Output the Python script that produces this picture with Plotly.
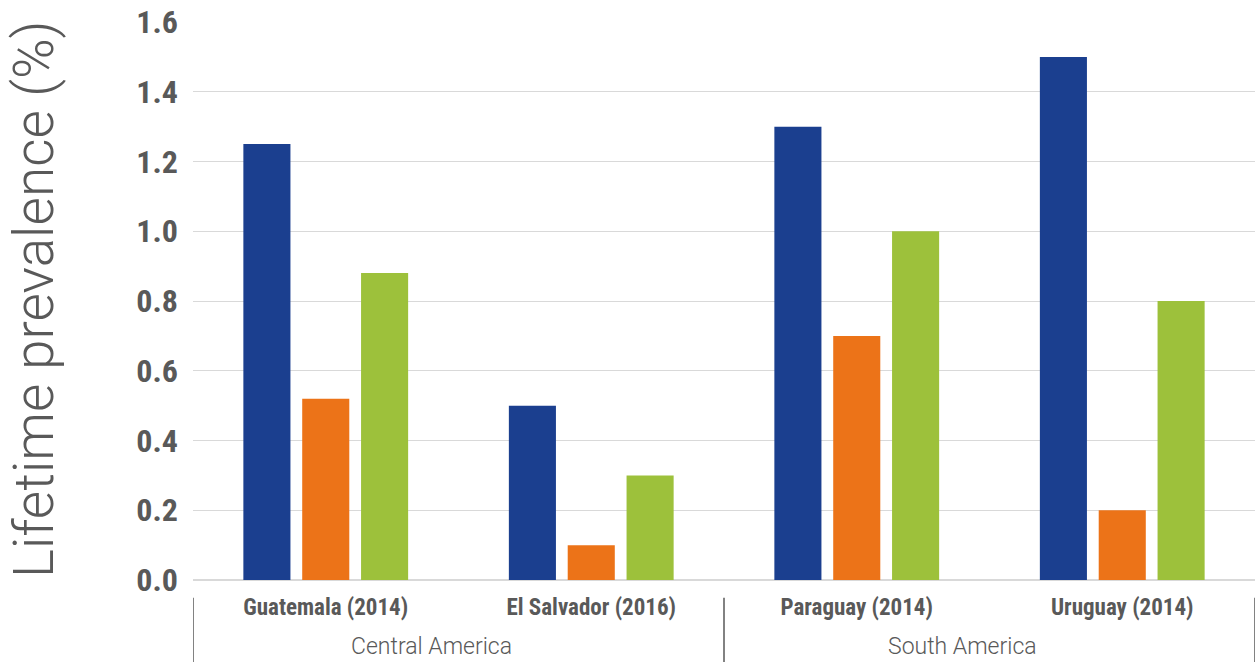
import plotly.graph_objects as go

# data
countries = ["Guatemala (2014)", "El Salvador (2016)", "Paraguay (2014)", "Uruguay (2014)"]
regions = ["Central America", "Central America", "South America", "South America"]
series_a = [1.25, 0.50, 1.30, 1.50]
series_b = [0.52, 0.10, 0.70, 0.20]
series_c = [0.88, 0.30, 1.00, 0.80]
y_ticks = [0.0, 0.2, 0.4, 0.6, 0.8, 1.0, 1.2, 1.4, 1.6]

colors = ["#1B3F8F", "#EC7318", "#9DC13B"]
grey = "#595959"
cond = "Roboto Condensed, DejaVu Sans Condensed, Roboto"

fig = go.Figure()
for vals, col in zip([series_a, series_b, series_c], colors):
    fig.add_trace(go.Bar(x=countries, y=vals, marker=dict(color=col, line=dict(width=0)),
                         showlegend=False))

# region labels + divider lines under the axis
region_names = ["Central America", "South America"]
for r in region_names:
    idx = [k for k, v in enumerate(regions) if v == r]
    mid = (idx[0] + idx[-1]) / 2 - 0.1
    fig.add_annotation(x=mid, y=-0.12, xref="x", yref="paper", text=r, showarrow=False,
                       font=dict(family="Roboto", weight=300, size=23, color=grey),
                       yanchor="middle")
for xd in [-0.5, 1.5, 3.5]:
    fig.add_shape(type="line", xref="x", yref="paper", x0=xd, x1=xd, y0=-0.032, y1=-0.15,
                  line=dict(color=grey, width=1.5))

# y title as a rotated annotation so it doesn't push the margins
fig.add_annotation(x=-0.149, y=0.503, xref="paper", yref="paper", text="Lifetime prevalence (%)",
                   textangle=-90, showarrow=False, xanchor="center", yanchor="middle",
                   font=dict(family="Roboto", weight=300, size=55, color=grey))

fig.update_layout(
    width=1257, height=662,
    margin=dict(l=193, r=2, t=22, b=82),
    plot_bgcolor="white", paper_bgcolor="white",
    barmode="group", bargap=0.335, bargroupgap=0.2,
    xaxis=dict(showgrid=False, showline=False, ticks="", automargin=False,
               tickfont=dict(family=cond, weight="bold", size=23, color=grey),
               ticklabelstandoff=11, range=[-0.5, 3.5]),
    yaxis=dict(range=[0, 1.6], tickvals=y_ticks, tickformat=".1f", automargin=False,
               gridcolor="#D9D9D9", gridwidth=1, zeroline=True, zerolinecolor="#D9D9D9",
               zerolinewidth=1.5, ticklabeloverflow="allow",
               tickfont=dict(family=cond, weight="bold", size=32, color=grey),
               ticklabelstandoff=14),
)

# drop the default 8px body margin so the figure fills the window
fig.write_html("out.html", config={"displayModeBar": False},
               post_script="document.body.style.margin='0';")
